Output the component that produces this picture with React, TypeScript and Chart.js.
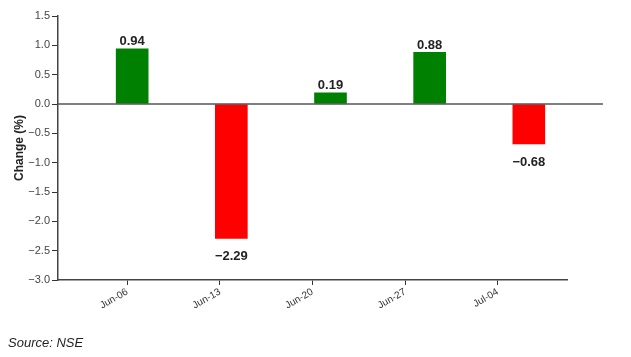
import React, { useEffect, useRef } from "react";
import { Chart, registerables } from "chart.js";

Chart.register(...registerables);

const categories = ["Jun-06", "Jun-13", "Jun-20", "Jun-27", "Jul-04"];
const changes = [0.94, -2.29, 0.19, 0.88, -0.68];
const yTicks = [1.5, 1.0, 0.5, 0.0, -0.5, -1.0, -1.5, -2.0, -2.5, -3.0];
const sourceText = "Source: NSE";
const yTitle = "Change (%)";

const FONT = "'Liberation Sans', Arial, sans-serif";
const GREEN = "#008000";
const RED = "#ff0000";

// band layout helpers (relative to category index)
const TICK_PAD = 0.748; // outer padding of the tick axis, in steps
const BAR_PAD = 0.748;
const BAR_SPAN = 5.133;

export default function App() {
  const ref = useRef<HTMLCanvasElement | null>(null);

  useEffect(() => {
    if (!ref.current) return;

    const overlay = {
      id: "overlay",
      afterDatasetsDraw(chart: any) {
        const ctx = chart.ctx;
        const y = chart.scales.y;
        const xb = chart.scales.xb;
        const ca = chart.chartArea;
        ctx.save();
        ctx.strokeStyle = "#555";
        ctx.lineWidth = 1.5;
        const y0 = y.getPixelForValue(0);
        ctx.beginPath();
        ctx.moveTo(ca.left, y0);
        ctx.lineTo(xb.getPixelForValue(categories.length - 1 + BAR_PAD), y0);
        ctx.stroke();
        const meta = chart.getDatasetMeta(0);
        ctx.font = `bold 13px ${FONT}`;
        ctx.fillStyle = "#222";
        ctx.textAlign = "center";
        meta.data.forEach((bar: any, i: number) => {
          const v = changes[i];
          const txt = (v < 0 ? "\u2212" : "") + Math.abs(v).toFixed(2);
          if (v >= 0) {
            ctx.textBaseline = "bottom";
            ctx.fillText(txt, bar.x, bar.y - 0.5);
          } else {
            ctx.textBaseline = "top";
            ctx.fillText(txt, bar.x, bar.y + 12);
          }
        });
        ctx.restore();
      },
    };

    const chart = new Chart(ref.current, {
      type: "bar",
      data: {
        datasets: [
          {
            data: changes.map((v, i) => ({ x: i, y: v })),
            backgroundColor: changes.map((v) => (v >= 0 ? GREEN : RED)),
            borderWidth: 0,
            barThickness: 32,
            xAxisID: "xb",
            yAxisID: "y",
          } as any,
        ],
      },
      options: {
        responsive: false,
        animation: false,
        layout: { padding: { top: 16, right: 64, bottom: 0, left: 0 } },
        plugins: {
          legend: { display: false },
          tooltip: { enabled: false },
        },
        scales: {
          x: {
            type: "linear",
            position: "bottom",
            offset: false,
            min: -TICK_PAD,
            max: categories.length - 1 + TICK_PAD,
            afterBuildTicks: (scale: any) => {
              scale.ticks = categories.map((_, i) => ({ value: i }));
            },
            afterFit: (scale: any) => {
              scale.height = 77;
            },
            ticks: {
              autoSkip: false,
              minRotation: 30,
              maxRotation: 30,
              padding: 1,
              color: "#333",
              font: { family: FONT, size: 10 },
              callback: (v: any) => categories[Math.round(Number(v))] ?? "",
            },
            grid: {
              offset: false,
              drawOnChartArea: false,
              drawTicks: true,
              tickLength: 5,
              color: "#333",
            },
            border: { display: true, color: "#444", width: 1.5 },
          },
          xb: {
            type: "linear",
            display: false,
            offset: false,
            min: -BAR_PAD,
            max: -BAR_PAD + BAR_SPAN,
          },
          y: {
            type: "linear",
            min: -3,
            max: 1.5,
            afterBuildTicks: (scale: any) => {
              scale.ticks = yTicks.map((v) => ({ value: v }));
            },
            afterFit: (scale: any) => {
              scale.width = 58;
            },
            ticks: {
              padding: 2,
              color: "#444",
              font: { family: FONT, size: 11 },
              callback: (v: any) => {
                const n = Number(v);
                return (n < 0 ? "\u2212" : "") + Math.abs(n).toFixed(1);
              },
            },
            grid: {
              drawOnChartArea: false,
              drawTicks: true,
              tickLength: 6,
              color: "#333",
            },
            border: { display: true, color: "#444", width: 1.5 },
            title: {
              display: true,
              text: yTitle,
              color: "#222",
              font: { family: FONT, size: 12, weight: "bold" },
              padding: { top: 12, bottom: 0 },
            },
          },
        },
      },
      plugins: [overlay],
    } as any);

    return () => chart.destroy();
  }, []);

  return (
    <div style={{ position: "absolute", left: 0, top: 0, width: 631, height: 357, background: "#fff" }}>
      <canvas ref={ref} width={631} height={357} style={{ display: "block" }} />
      <div
        style={{
          position: "absolute",
          left: 8,
          top: 335,
          fontFamily: FONT,
          fontStyle: "italic",
          fontSize: 13,
          color: "#222",
          lineHeight: "normal",
        }}
      >
        {sourceText}
      </div>
    </div>
  );
}
